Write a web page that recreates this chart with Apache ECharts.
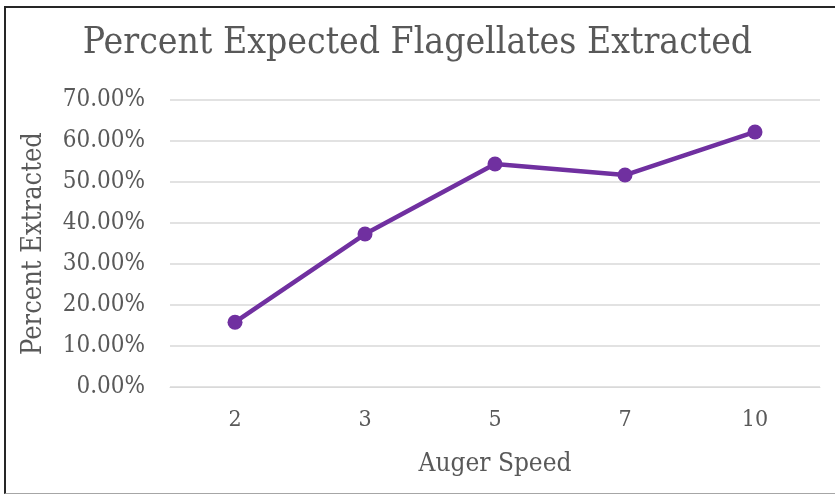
<!DOCTYPE html>
<html>
<head>
<meta charset="utf-8">
<script src="https://cdn.jsdelivr.net/npm/echarts@6/dist/echarts.min.js"></script>
<style>
html,body{margin:0;padding:0;background:#fff;}
#frame{position:absolute;left:4px;top:6px;width:831px;height:488px;border-left:2px solid #262626;border-top:2px solid #262626;border-bottom:1px solid #a6a6a6;box-sizing:border-box;}
#chart{position:absolute;left:0;top:0;width:835px;height:496px;}
</style>
</head>
<body>
<div id="frame"></div>
<div id="chart"></div>
<script>
const categories = ['2', '3', '5', '7', '10'];
const values = [0.158, 0.373, 0.544, 0.517, 0.622];
const yTicks = [0, 0.1, 0.2, 0.3, 0.4, 0.5, 0.6, 0.7];

const font = "'DejaVu Serif Condensed', 'DejaVu Serif', serif";
const chart = echarts.init(document.getElementById('chart'));
chart.setOption({
  animation: false,
  title: {
    text: 'Percent Expected Flagellates Extracted',
    left: 'center',
    top: 20,
    textStyle: {fontFamily: font, fontSize: 37, fontWeight: 'normal', color: '#595959'}
  },
  grid: {left: 170, right: 15, top: 100, bottom: 109, containLabel: false},
  xAxis: {
    type: 'category',
    data: categories,
    name: 'Auger Speed',
    nameLocation: 'middle',
    nameGap: 64,
    nameTextStyle: {fontFamily: font, fontSize: 26, color: '#595959'},
    axisLine: {show: true, lineStyle: {color: '#d9d9d9', width: 1}},
    axisTick: {show: false},
    axisLabel: {fontFamily: font, fontSize: 23, color: '#595959', margin: 22}
  },
  yAxis: {
    type: 'value',
    min: 0,
    max: yTicks[yTicks.length - 1],
    interval: 0.1,
    name: 'Percent Extracted',
    nameLocation: 'middle',
    nameGap: 123,
    nameTextStyle: {fontFamily: font, fontSize: 27, color: '#595959'},
    axisLine: {show: false},
    axisTick: {show: false},
    splitLine: {lineStyle: {color: '#d9d9d9', width: 1.5}},
    axisLabel: {
      fontFamily: font, fontSize: 24, color: '#595959', margin: 25,
      formatter: v => (v * 100).toFixed(2) + '%'
    }
  },
  series: [{
    type: 'line',
    data: values,
    symbol: 'circle',
    symbolSize: 15,
    lineStyle: {color: '#7030A0', width: 4.5},
    itemStyle: {color: '#7030A0'}
  }]
});
</script>
</body>
</html>
